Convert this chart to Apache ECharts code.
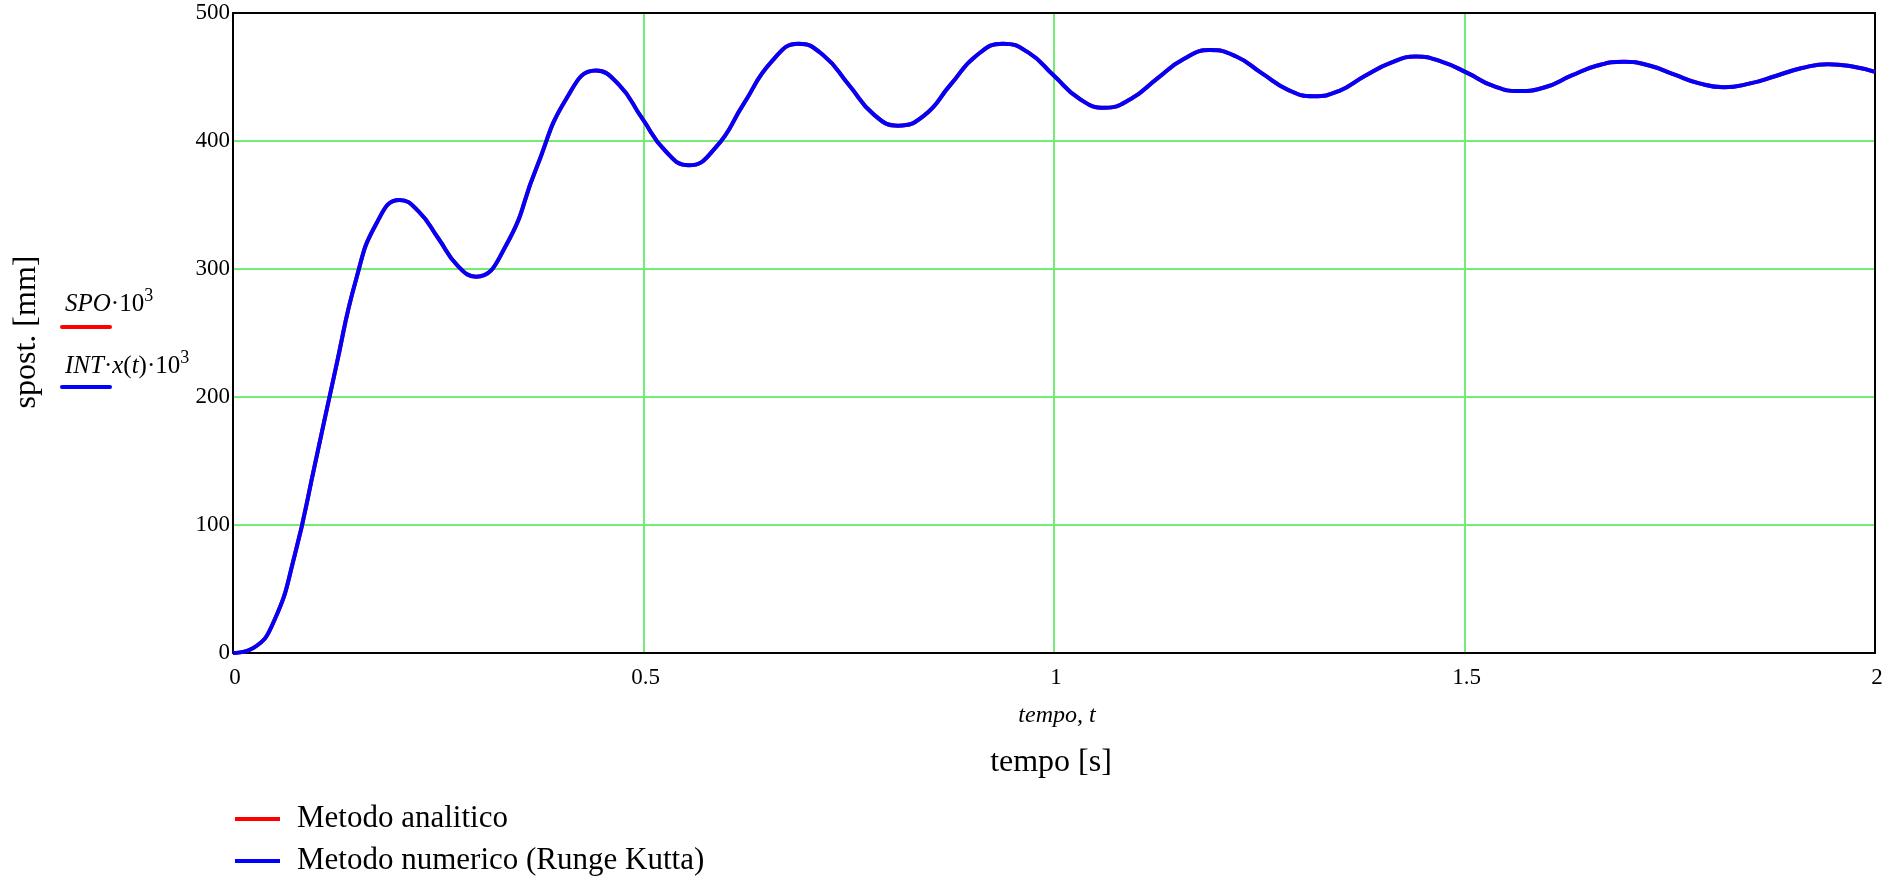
<!DOCTYPE html>
<html>
<head>
<meta charset="utf-8">
<script src="https://cdn.jsdelivr.net/npm/echarts@6/dist/echarts.min.js"></script>
<style>
  html, body { margin: 0; padding: 0; background: #fff; }
  #chart { width: 1894px; height: 887px; }
</style>
</head>
<body>
<div id="chart"></div>
<script>
// tempo [s] (extremes of each swing plus points between them)
const tempo = [
  0, 0.025, 0.05, 0.075, 0.1, 0.125, 0.15, 0.175,
  0.203, 0.226, 0.250, 0.273,
  0.296, 0.333, 0.369, 0.406,
  0.442, 0.470, 0.498, 0.527,
  0.555, 0.588, 0.622, 0.656,
  0.689, 0.719, 0.750, 0.780,
  0.810, 0.842, 0.874, 0.906,
  0.938, 0.969, 1.000, 1.031,
  1.062, 1.094, 1.126, 1.158,
  1.190, 1.222, 1.253, 1.285,
  1.316, 1.347, 1.379, 1.410,
  1.441, 1.472, 1.504, 1.535,
  1.566, 1.598, 1.630, 1.662,
  1.694, 1.725, 1.755, 1.786,
  1.816, 1.848, 1.880, 1.911,
  1.943, 1.974, 2.0
];
// spostamento [mm], Runge Kutta
const spostNumerico = [
  0, 4, 25, 76, 148, 222, 292, 336,
  354, 345, 324, 303,
  294, 319, 378, 433,
  455, 444, 418, 392,
  381, 395, 429, 462,
  476, 467, 444, 421,
  412, 420, 444, 467,
  476, 469, 451, 433,
  426, 433, 449, 464,
  471, 466, 453, 440,
  435, 439, 451, 461,
  466, 462, 453, 443,
  439, 442, 451, 459,
  462, 459, 452, 445,
  442, 445, 451, 457,
  460, 458, 454
];
// metodo analitico: coincides with the numeric curve (hidden under it)
const spostAnalitico = spostNumerico.slice();

const seriesNames = ['Metodo analitico', 'Metodo numerico (Runge Kutta)'];
const yTicks = { min: 0, max: 500, interval: 100 };
const xTicks = { min: 0, max: 2, interval: 0.5 };

const FONT = '"Liberation Serif", "DejaVu Serif", serif';
const GREEN = '#72ec72';

const toPairs = (xs, ys) => xs.map((x, i) => [x, ys[i]]);

const chart = echarts.init(document.getElementById('chart'));

const frameAxis = { onZero: false, lineStyle: { color: '#000', width: 2 } };

const option = {
  animation: false,
  textStyle: { fontFamily: FONT, color: '#000' },
  grid: { left: 233, top: 13, width: 1642, height: 640 },
  xAxis: [
    {
      type: 'value',
      min: xTicks.min, max: xTicks.max, interval: xTicks.interval,
      axisLine: frameAxis,
      axisTick: { show: false },
      axisLabel: { fontFamily: FONT, fontSize: 23, color: '#000', margin: 13, padding: [0, 0, 0, 4] },
      splitLine: { show: true, showMinLine: false, showMaxLine: false, lineStyle: { color: GREEN, width: 2 } }
    },
    {
      type: 'value', position: 'top',
      min: xTicks.min, max: xTicks.max,
      axisLine: frameAxis, axisTick: { show: false }, axisLabel: { show: false }, splitLine: { show: false }
    }
  ],
  yAxis: [
    {
      type: 'value',
      min: yTicks.min, max: yTicks.max, interval: yTicks.interval,
      axisLine: frameAxis,
      axisTick: { show: false },
      axisLabel: { fontFamily: FONT, fontSize: 23, color: '#000', margin: 3, padding: [11, 0, 0, 0] },
      splitLine: { show: true, showMinLine: false, showMaxLine: false, lineStyle: { color: GREEN, width: 2 } }
    },
    {
      type: 'value', position: 'right',
      min: yTicks.min, max: yTicks.max,
      axisLine: frameAxis, axisTick: { show: false }, axisLabel: { show: false }, splitLine: { show: false }
    }
  ],
  legend: {
    orient: 'vertical',
    left: 235, top: 802, padding: 0,
    icon: 'rect', itemWidth: 45, itemHeight: 4, itemGap: 8,
    textStyle: { fontFamily: FONT, fontSize: 31, lineHeight: 34, color: '#000', padding: [0, 0, 0, 12] },
    data: seriesNames
  },
  series: [
    {
      name: seriesNames[0], type: 'line', smooth: 0.5, showSymbol: false,
      color: '#ff0000', lineStyle: { width: 4 },
      data: toPairs(tempo, spostAnalitico)
    },
    {
      name: seriesNames[1], type: 'line', smooth: 0.5, showSymbol: false,
      color: '#0000ff', lineStyle: { width: 4 },
      data: toPairs(tempo, spostNumerico)
    }
  ],
  graphic: [
    {
      type: 'text', x: 27, y: 332, rotation: Math.PI / 2,
      style: { text: 'spost. [mm]', font: '32px ' + FONT, fill: '#000', align: 'center', verticalAlign: 'middle' }
    },
    {
      type: 'text', x: 65, y: 304,
      style: {
        text: '{i|SPO}{r|·10}{s|3}', verticalAlign: 'middle', fill: '#000',
        rich: {
          i: { fontFamily: FONT, fontSize: 25, fontStyle: 'italic', lineHeight: 34 },
          r: { fontFamily: FONT, fontSize: 25, lineHeight: 34 },
          s: { fontFamily: FONT, fontSize: 18, lineHeight: 34, verticalAlign: 'top' }
        }
      }
    },
    { type: 'rect', shape: { x: 60, y: 325, width: 52, height: 4, r: 2 }, style: { fill: '#ff0000' } },
    {
      type: 'text', x: 65, y: 366,
      style: {
        text: '{i|INT}{r|·}{i|x}{r|(}{i|t}{r|)·10}{s|3}', verticalAlign: 'middle', fill: '#000',
        rich: {
          i: { fontFamily: FONT, fontSize: 25, fontStyle: 'italic', lineHeight: 34 },
          r: { fontFamily: FONT, fontSize: 25, lineHeight: 34 },
          s: { fontFamily: FONT, fontSize: 18, lineHeight: 34, verticalAlign: 'top' }
        }
      }
    },
    { type: 'rect', shape: { x: 60, y: 385, width: 52, height: 4, r: 2 }, style: { fill: '#0000ff' } },
    {
      type: 'text', x: 1057, y: 716,
      style: { text: 'tempo, t', font: 'italic 24px ' + FONT, fill: '#000', align: 'center', verticalAlign: 'middle' }
    },
    {
      type: 'text', x: 1051, y: 763,
      style: { text: 'tempo [s]', font: '32px ' + FONT, fill: '#000', align: 'center', verticalAlign: 'middle' }
    }
  ]
};

chart.setOption(option);
</script>
</body>
</html>
